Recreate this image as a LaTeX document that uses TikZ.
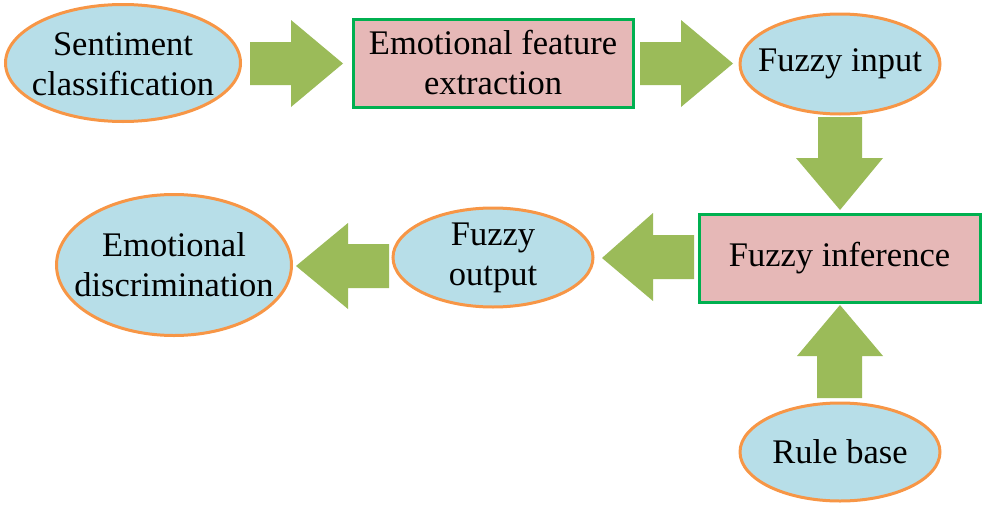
\documentclass[tikz,border=0pt]{standalone}
\usepackage{fontspec}
\setmainfont{Liberation Serif}
\newfontfamily\tnr{Liberation Serif}
\usetikzlibrary{shapes.geometric}
\definecolor{ellfill}{RGB}{183,222,232}
\definecolor{ellline}{RGB}{247,150,70}
\definecolor{boxfill}{RGB}{230,184,183}
\definecolor{boxline}{RGB}{0,176,80}
\definecolor{arrfill}{RGB}{155,187,89}
\tikzset{
  txt/.style={font=\tnr\fontsize{34.5}{40}\selectfont, align=center, inner sep=0pt, text=black},
  ellshape/.style={draw=ellline, fill=ellfill, line width=3pt},
  procbox/.style={txt, rectangle, draw=boxline, fill=boxfill, line width=3pt},
  blockarr/.style={fill=arrfill, draw=none}
}
\begin{document}
\begin{tikzpicture}[x=1pt,y=-1pt]
\useasboundingbox (0,0) rectangle (985,506);
% ellipse backgrounds
\path[ellshape] (123,63) ellipse [x radius=117.5, y radius=58.5];
\path[ellshape] (840,64) ellipse [x radius=100, y radius=50];
\path[ellshape] (840,452) ellipse [x radius=100, y radius=49];
\path[ellshape] (493,257.5) ellipse [x radius=100, y radius=49.5];
\path[ellshape] (174,265) ellipse [x radius=117.5, y radius=70.5];
% nodes
\node[txt] (sent) at (123,64) {Sentiment\\classification};
\node[procbox, minimum width=280pt, minimum height=88pt] (feat) at (493,63) {Emotional feature\\extraction};
\node[txt] (fin) at (840,64) {Fuzzy input};
\node[procbox, minimum width=281pt, minimum height=88pt] (finf) at (839.5,258) {Fuzzy inference};
\node[txt] (rule) at (840,452) {Rule base};
\node[txt] (fout) at (493,257.5) {Fuzzy\\output};
\node[txt] (disc) at (174,265) {Emotional\\discrimination};
% block arrows
\fill[blockarr] (250,42) -- (291,42) -- (291,20) -- (343,63.5) -- (291,107) -- (291,85) -- (250,85) -- cycle;
\fill[blockarr] (640,42) -- (681,42) -- (681,20) -- (733,63.5) -- (681,107) -- (681,85) -- (640,85) -- cycle;
\fill[blockarr] (818,117) -- (862,117) -- (862,158) -- (883,158) -- (840,210) -- (796,158) -- (818,158) -- cycle;
\fill[blockarr] (817,398) -- (862,398) -- (862,356) -- (883,356) -- (840,305) -- (797,356) -- (817,356) -- cycle;
\fill[blockarr] (694,235) -- (653,235) -- (653,213) -- (602,258) -- (653,301) -- (653,279) -- (694,279) -- cycle;
\fill[blockarr] (389,244) -- (348,244) -- (348,223) -- (296,266) -- (348,309) -- (348,288) -- (389,288) -- cycle;
\end{tikzpicture}
\end{document}
